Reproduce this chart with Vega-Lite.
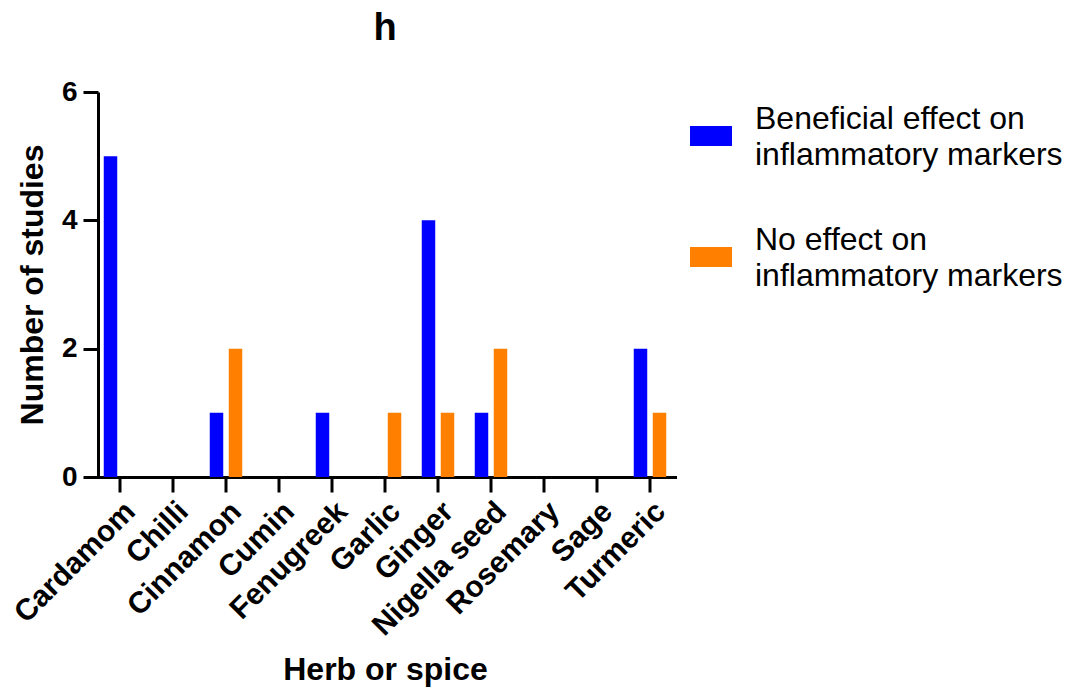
{
  "$schema": "https://vega.github.io/schema/vega-lite/v6.json",
  "autosize": {"type": "none"},
  "width": 583,
  "height": 385,
  "padding": {"left": 93.5, "top": 92, "right": 392.5, "bottom": 214},
  "background": "white",
  "title": {"text": "h", "font": "Liberation Sans", "fontSize": 38, "fontWeight": "bold", "color": "black", "anchor": "middle", "baseline": "alphabetic", "offset": 0},
  "data": {
    "values": [
      {"herb": "Cardamom", "effect": "Beneficial effect on inflammatory markers", "studies": 5},
      {"herb": "Cardamom", "effect": "No effect on inflammatory markers", "studies": 0},
      {"herb": "Chilli", "effect": "Beneficial effect on inflammatory markers", "studies": 0},
      {"herb": "Chilli", "effect": "No effect on inflammatory markers", "studies": 0},
      {"herb": "Cinnamon", "effect": "Beneficial effect on inflammatory markers", "studies": 1},
      {"herb": "Cinnamon", "effect": "No effect on inflammatory markers", "studies": 2},
      {"herb": "Cumin", "effect": "Beneficial effect on inflammatory markers", "studies": 0},
      {"herb": "Cumin", "effect": "No effect on inflammatory markers", "studies": 0},
      {"herb": "Fenugreek", "effect": "Beneficial effect on inflammatory markers", "studies": 1},
      {"herb": "Fenugreek", "effect": "No effect on inflammatory markers", "studies": 0},
      {"herb": "Garlic", "effect": "Beneficial effect on inflammatory markers", "studies": 0},
      {"herb": "Garlic", "effect": "No effect on inflammatory markers", "studies": 1},
      {"herb": "Ginger", "effect": "Beneficial effect on inflammatory markers", "studies": 4},
      {"herb": "Ginger", "effect": "No effect on inflammatory markers", "studies": 1},
      {"herb": "Nigella seed", "effect": "Beneficial effect on inflammatory markers", "studies": 1},
      {"herb": "Nigella seed", "effect": "No effect on inflammatory markers", "studies": 2},
      {"herb": "Rosemary", "effect": "Beneficial effect on inflammatory markers", "studies": 0},
      {"herb": "Rosemary", "effect": "No effect on inflammatory markers", "studies": 0},
      {"herb": "Sage", "effect": "Beneficial effect on inflammatory markers", "studies": 0},
      {"herb": "Sage", "effect": "No effect on inflammatory markers", "studies": 0},
      {"herb": "Turmeric", "effect": "Beneficial effect on inflammatory markers", "studies": 2},
      {"herb": "Turmeric", "effect": "No effect on inflammatory markers", "studies": 1}
    ]
  },
  "mark": {"type": "bar", "strokeWidth": 0},
  "encoding": {
    "x": {
      "field": "herb",
      "type": "nominal",
      "sort": null,
      "scale": {"paddingInner": 0, "paddingOuter": 0},
      "axis": {
        "title": "Herb or spice",
        "labelAngle": -45,
        "labelAlign": "right",
        "labelBaseline": "top",
        "labelFontSize": 30,
        "tickSize": 15,
        "labelPadding": 4,
        "titlePadding": 13
      }
    },
    "xOffset": {
      "field": "effect",
      "type": "nominal",
      "scale": {"paddingInner": 0.29, "paddingOuter": 0.54}
    },
    "y": {
      "field": "studies",
      "type": "quantitative",
      "scale": {"domain": [0, 6], "nice": false},
      "axis": {
        "title": "Number of studies",
        "values": [0, 2, 4, 6],
        "tickSize": 15,
        "labelPadding": 6,
        "titlePadding": 12,
        "offset": -4.5
      }
    },
    "color": {
      "field": "effect",
      "type": "nominal",
      "scale": {"domain": ["Beneficial effect on inflammatory markers", "No effect on inflammatory markers"], "range": ["#0000FF", "#FF8000"]},
      "legend": {
        "title": null,
        "orient": "none",
        "legendX": 596.5,
        "legendY": 23,
        "symbolType": "M-1,-0.476H1V0.476H-1Z",
        "symbolSize": 1764,
        "symbolStrokeWidth": 0,
        "symbolOpacity": 1,
        "labelFont": "Liberation Sans",
        "labelFontSize": 32,
        "labelColor": "black",
        "labelOffset": 23,
        "labelLimit": 600,
        "rowPadding": 53,
        "labelExpr": "datum.label == 'Beneficial effect on inflammatory markers' ? ['Beneficial effect on', 'inflammatory markers'] : ['No effect on', 'inflammatory markers']",
        "encode": {"labels": {"update": {"lineHeight": {"value": 36}, "dy": {"value": -17}}}}
      }
    }
  },
  "config": {
    "view": {"stroke": null},
    "axis": {
      "grid": false,
      "domainColor": "black",
      "domainWidth": 3,
      "tickColor": "black",
      "tickWidth": 3,
      "labelFont": "Liberation Sans",
      "labelFontSize": 28,
      "labelFontWeight": "bold",
      "labelColor": "black",
      "titleFont": "Liberation Sans",
      "titleFontSize": 32,
      "titleFontWeight": "bold",
      "titleColor": "black"
    }
  }
}
